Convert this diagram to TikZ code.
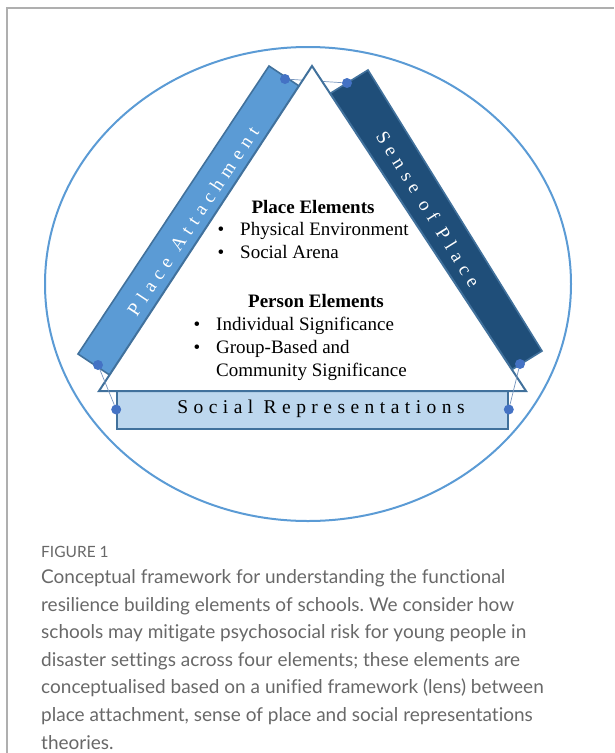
\documentclass[tikz,border=0pt]{standalone}
\usepackage{fontspec}
\setmainfont{Liberation Serif}
\newfontfamily\capfont[Ligatures=NoCommon]{Lato}
\usetikzlibrary{calc}
\frenchspacing

\definecolor{ringblue}{RGB}{91,155,213}
\definecolor{edgeblue}{RGB}{65,113,156}
\definecolor{paBlue}{RGB}{91,155,213}
\definecolor{spBlue}{RGB}{31,78,121}
\definecolor{srFill}{RGB}{189,215,238}
\definecolor{dotBlue}{RGB}{68,114,196}
\definecolor{linkGray}{RGB}{120,150,190}
\definecolor{capGray}{RGB}{104,104,104}
\definecolor{frameGray}{RGB}{175,175,175}

\pgfdeclarelayer{bars}
\pgfdeclarelayer{links}
\pgfsetlayers{bars,links,main}

\begin{document}
\begin{tikzpicture}[x=1pt,y=-1pt,
  bar/.style={draw=edgeblue,line width=1.6pt,line join=miter},
  tri/.style={draw=edgeblue,fill=white,line width=2pt,line join=miter},
  srbox/.style={draw=edgeblue,fill=srFill,line width=1.6pt,minimum width=391pt,minimum height=39pt,inner sep=0pt},
  srtext/.style={inner sep=0pt,font=\fontsize{19.5}{19.5}\selectfont\addfontfeature{LetterSpace=28}},
  hookdot/.style={circle,fill=dotBlue,inner sep=0pt,minimum size=10pt},
  link/.style={draw=linkGray,line width=0.7pt},
  bartext/.style={text=white,inner sep=0pt,font=\fontsize{19}{19}\selectfont\addfontfeature{LetterSpace=33}},
  head/.style={font=\fontsize{19}{19}\selectfont\bfseries,inner sep=0pt,anchor=base},
  item/.style={font=\fontsize{19}{19}\selectfont,inner sep=0pt,anchor=base west},
  bul/.style={font=\fontsize{19}{19}\selectfont,inner sep=0pt,anchor=base},
  capfig/.style={font=\capfont\fontsize{15.5}{15.5}\selectfont,text=capGray,inner sep=0pt,anchor=base west},
  captext/.style={font=\capfont\fontsize{19}{19}\selectfont,text=capGray,inner sep=0pt,anchor=base west}]
\useasboundingbox (0,0) rectangle (614,753);

% page frame
\draw[frameGray,line width=1.4pt] (7,753) -- (7,8) -- (614,8);

\begin{pgfonlayer}{bars}
  % outer ring
  \draw[ringblue,line width=2pt] (308,284) ellipse [x radius=263, y radius=237];
  % side bars
  \path[bar,fill=paBlue] (78,354) -- (269,66) -- (307.3,91.4) -- (116.3,379.4) -- cycle;
  \path[bar,fill=spBlue] (368,70) -- (542,351) -- (499.5,377.3) -- (325.5,96.3) -- cycle;
  \node[bartext,rotate=56.45] (pa) at (193,221) {Place Attachment};
  \node[bartext,rotate=-58.2] (sp) at (428.3,209.1) {Sense of Place};
\end{pgfonlayer}

% bottom bar
\node[srbox] (sr) at (312.5,409.5) {};
\node[srtext] (srl) at (321,409) {Social Representations};

% central triangle
\path[tri] (312,66) -- (526,391) -- (99,391) -- cycle;

% connection dots
\node[hookdot] (dTL) at (285,79) {};
\node[hookdot] (dTR) at (347,83) {};
\node[hookdot] (dBL) at (98,365) {};
\node[hookdot] (dSL) at (sr.west) {};
\node[hookdot] (dBR) at (520,364) {};
\node[hookdot] (dSR) at (sr.east) {};

\begin{pgfonlayer}{links}
  \draw[link] (dTL) -- (dTR);
\end{pgfonlayer}
\draw[link] (dBL) -- (dSL);
\draw[link] (dBR) -- (dSR);

% element lists
\node[head] (plh) at (313,213) {Place Elements};
\node[bul] (pb1) at (221,235) {\textbullet};
\node[item] (pi1) at (240,235) {Physical Environment};
\node[bul] (pb2) at (221,258.5) {\textbullet};
\node[item] (pi2) at (240,258.5) {Social Arena};

\node[head] (peh) at (316,307) {Person Elements};
\node[bul] (qb1) at (197,330) {\textbullet};
\node[item] (qi1) at (216,330) {Individual Significance};
\node[bul] (qb2) at (197,353) {\textbullet};
\node[item] (qi2) at (216,353) {Group-Based and};
\node[item] (qi3) at (216,376) {Community Significance};

% caption
\node[capfig] (fig) at (41,557) {FIGURE 1};
\node[captext] (c1) at (41,583.5) {Conceptual framework for understanding the functional};
\node[captext] (c2) at (41,611.1) {resilience building elements of schools. We consider how};
\node[captext] (c3) at (41,638.7) {schools may mitigate psychosocial risk for young people in};
\node[captext] (c4) at (41,666.3) {disaster settings across four elements; these elements are};
\node[captext] (c5) at (41,693.9) {conceptualised based on a unified framework (lens) between};
\node[captext] (c6) at (41,721.5) {place attachment, sense of place and social representations};
\node[captext] (c7) at (41,749) {theories.};
\end{tikzpicture}
\end{document}
